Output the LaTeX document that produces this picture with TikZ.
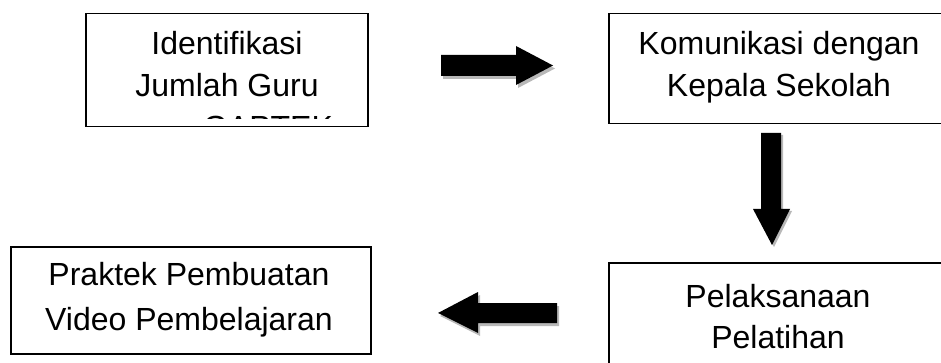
\documentclass[tikz,border=0pt]{standalone}
\usepackage{fontspec}
\setmainfont{Liberation Sans}
\begin{document}
\begin{tikzpicture}[x=1pt,y=-1pt,
  box/.style={draw, line width=1.5pt, inner sep=0pt, anchor=north west},
  lbl/.style={anchor=base, inner sep=0pt, font=\fontsize{32}{42}\selectfont},
  shd/.style={fill=black!28},
  blk/.style={fill=black}]
\useasboundingbox (0,0) rectangle (941,363);
\clip (0,0) rectangle (941,363);
% boxes
\node[box, minimum width=282pt, minimum height=113pt] (b1) at (85,13) {};
\node[box, minimum width=340pt, minimum height=110pt] (b2) at (608,13) {};
\node[box, minimum width=340pt, minimum height=120pt] (b3) at (608,262) {};
\node[box, minimum width=360pt, minimum height=107pt] (b4) at (10,246) {};
% texts
\node[lbl] (t1a) at (227,55) {Identifikasi};
\node[lbl] (t1b) at (227,97) {Jumlah Guru};
\begin{scope}
  \clip (86,14) rectangle (366,119);
  \node[lbl] (t1c) at (268,139) {GAPTEK};
\end{scope}
\node[lbl] (t2a) at (779,55) {Komunikasi dengan};
\node[lbl] (t2b) at (779,97) {Kepala Sekolah};
\node[lbl] (t3a) at (778,307) {Pelaksanaan};
\node[lbl] (t3b) at (778,348) {Pelatihan};
\node[lbl] (t4a) at (189,285) {Praktek Pembuatan};
\node[lbl] (t4b) at (189,330) {Video Pembelajaran};
% right arrow
\fill[shd, shift={(2,3)}] (441,55) -- (516,55) -- (516,46) -- (553,65.5) -- (516,85) -- (516,76) -- (441,76) -- cycle;
\fill[blk] (441,55) -- (516,55) -- (516,46) -- (553,65.5) -- (516,85) -- (516,76) -- (441,76) -- cycle;
% down arrow
\fill[shd, shift={(2,2)}] (761,133) -- (781,133) -- (781,209) -- (790,209) -- (772,245) -- (753,209) -- (761,209) -- cycle;
\fill[blk] (761,133) -- (781,133) -- (781,209) -- (790,209) -- (772,245) -- (753,209) -- (761,209) -- cycle;
% left arrow
\fill[shd, shift={(2,3)}] (557,303) -- (478,303) -- (478,292) -- (438,313) -- (478,333) -- (478,323) -- (557,323) -- cycle;
\fill[blk] (557,303) -- (478,303) -- (478,292) -- (438,313) -- (478,333) -- (478,323) -- (557,323) -- cycle;
\end{tikzpicture}
\end{document}
